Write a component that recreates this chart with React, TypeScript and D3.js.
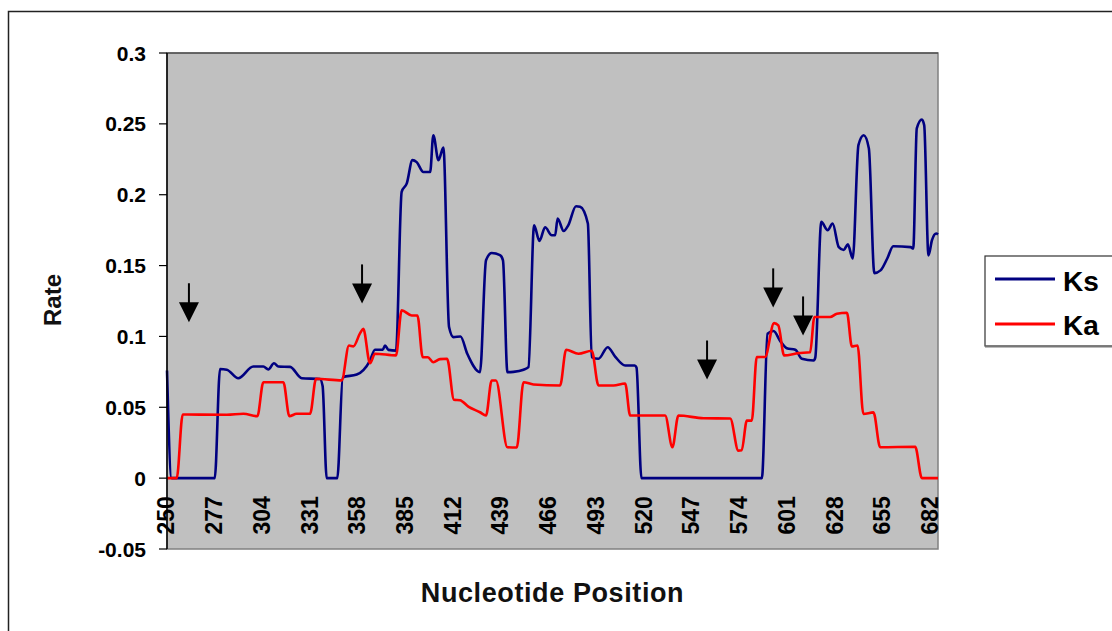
import React from 'react';
import * as d3 from 'd3';

// Ks / Ka sliding-window rates as [position, rate]
const ksPoints: [number, number][] = [
  [250, 0.076], [252.6, 0], [277, 0], [280, 0.077], [283.8, 0.0765], [290.3, 0.0705],
  [298.8, 0.0788], [304.5, 0.0788], [307.3, 0.0767], [310.5, 0.0811], [313, 0.0788],
  [319.6, 0.0785], [326.2, 0.0705], [336.5, 0.07], [338, 0.065], [340.3, 0], [346.3, 0],
  [349.4, 0.0712], [357.3, 0.0731], [364.8, 0.083], [367.6, 0.0906], [372, 0.0906],
  [373.3, 0.0936], [375.2, 0.0905], [379.5, 0.09], [382.7, 0.202], [385.6, 0.208],
  [388.8, 0.2244], [391.2, 0.223], [395, 0.216], [398.8, 0.216], [400.6, 0.242],
  [403.5, 0.2244], [406.3, 0.2333], [409.5, 0.1066], [412, 0.0995], [416, 0.1],
  [419.8, 0.0878], [427, 0.0748], [430.4, 0.1537], [433.6, 0.1589], [438.3, 0.1574],
  [440, 0.1537], [442.5, 0.0748], [445.9, 0.075], [451.6, 0.0765], [454.4, 0.0783],
  [457.6, 0.1784], [460.6, 0.1674], [463.8, 0.177], [467.6, 0.1714], [469.5, 0.1714],
  [470.9, 0.1832], [474.3, 0.1744], [476.9, 0.1784], [481.3, 0.1919], [483.6, 0.1915],
  [488, 0.1797], [490.2, 0.0854], [494, 0.0842], [499.2, 0.0924], [503.4, 0.0858],
  [509.1, 0.0795], [514.5, 0.0795], [515.5, 0.078], [518.3, 0], [586.4, 0],
  [589.6, 0.1019], [593, 0.1038], [596.8, 0.0967], [600.5, 0.0917], [605.3, 0.0906],
  [609, 0.0842], [615.7, 0.083], [616.6, 0.085], [620, 0.1808], [623.6, 0.175],
  [626.4, 0.1797], [629.9, 0.163], [632.7, 0.161], [635, 0.165], [637.8, 0.155],
  [641, 0.235], [644, 0.242], [646.9, 0.2327], [650, 0.1447], [653.5, 0.1466],
  [657.3, 0.155], [660.7, 0.1636], [670.5, 0.163], [672, 0.162], [674, 0.2468],
  [676.9, 0.2531], [678.2, 0.249], [680.6, 0.1572], [682.6, 0.168], [685, 0.1726],
  [686, 0.172],
];

const kaPoints: [number, number][] = [
  [250, 0], [255.5, 0], [258.9, 0.0449], [283.8, 0.0447], [293.2, 0.0454], [301.1, 0.0437],
  [304.5, 0.0677], [315.8, 0.0677], [319.2, 0.0437], [323.3, 0.0454], [330.9, 0.0454],
  [334.3, 0.0701], [348.8, 0.069], [352.9, 0.0936], [355.4, 0.093], [359.2, 0.1023],
  [361, 0.1054], [364.8, 0.0811], [367.6, 0.0878], [379.5, 0.0866], [382.7, 0.1184],
  [388.4, 0.1148], [391.6, 0.1148], [394.6, 0.0854], [397.5, 0.0853], [400.6, 0.0818],
  [404.4, 0.084], [408.4, 0.0842], [412.3, 0.0553], [415.7, 0.055], [420.4, 0.0505],
  [427, 0.0465], [430.4, 0.0442], [433.6, 0.0689], [436, 0.0689], [442.5, 0.0218],
  [447.8, 0.0216], [451.6, 0.0677], [457.2, 0.0661], [472.3, 0.0654], [475.7, 0.0906],
  [482.7, 0.0878], [490.2, 0.0899], [494, 0.0654], [502.5, 0.0654], [509.1, 0.0668],
  [511.9, 0.0442], [531.7, 0.0442], [535.8, 0.0218], [539.2, 0.0442], [553.4, 0.0423],
  [568.5, 0.0421], [573.1, 0.0194], [575, 0.0197], [577.9, 0.0406], [580.7, 0.0406],
  [583.5, 0.0854], [588.2, 0.0855], [593.3, 0.1094], [595.7, 0.1078], [599, 0.0866],
  [607.1, 0.0882], [613.7, 0.0889], [616.1, 0.1137], [625, 0.1137], [628.8, 0.116],
  [634.5, 0.1167], [637.3, 0.0929], [640.5, 0.0936], [643.8, 0.0453], [649.5, 0.0464],
  [653.3, 0.0218], [673.1, 0.0221], [676.9, 0], [686, 0],
];

const xTicks = [250, 277, 304, 331, 358, 385, 412, 439, 466, 493, 520, 547, 574, 601, 628, 655, 682];
const yTicks = [-0.05, 0, 0.05, 0.1, 0.15, 0.2, 0.25, 0.3];

// arrows marking positions: [position, rate at arrow tip]
const arrowPos = [262.4, 360.3, 555.4, 592.8, 609.7];
const arrowTip = [0.11, 0.1233, 0.0696, 0.1205, 0.1007];

const series = [
  { name: 'Ks', points: ksPoints, color: '#000080' },
  { name: 'Ka', points: kaPoints, color: '#ff0000' },
];

const W = 1112;
const H = 631;
const plot = { left: 167, right: 938, top: 53, bottom: 549 };
const font = 'Arial, "Liberation Sans", sans-serif';

export default function App() {
  const x = d3.scaleLinear().domain([250, 686]).range([plot.left, plot.right]);
  const y = d3.scaleLinear().domain([-0.05, 0.3]).range([plot.bottom, plot.top]);
  const line = d3
    .line<[number, number]>()
    .x((d) => x(d[0]))
    .y((d) => y(d[1]))
    .curve(d3.curveMonotoneX);

  const fmt = (v: number) => String(+v.toFixed(2));

  return (
    <svg width={W} height={H} style={{ position: 'absolute', left: 0, top: 0, background: '#fff' }}>
      {/* chart border */}
      <rect x={8.5} y={11.5} width={1120} height={640} fill="none" stroke="#222" strokeWidth={1.5} />

      {/* plot area */}
      <rect
        x={plot.left}
        y={plot.top}
        width={plot.right - plot.left}
        height={plot.bottom - plot.top}
        fill="#c0c0c0"
        stroke="#808080"
        strokeWidth={1.5}
      />
      <line x1={plot.left} x2={plot.right} y1={plot.top} y2={plot.top} stroke="#333" strokeWidth={1.2} />

      {/* series */}
      {series.map((s) => (
        <path key={s.name} d={line(s.points) || ''} fill="none" stroke={s.color} strokeWidth={2.6} strokeLinejoin="round" />
      ))}

      {/* arrows */}
      {arrowPos.map((p, i) => {
        const ax = x(p);
        const ty = y(arrowTip[i]);
        return (
          <g key={i}>
            <line x1={ax} x2={ax} y1={ty - 39} y2={ty - 18} stroke="#000" strokeWidth={2} />
            <path d={`M${ax - 10},${ty - 20}L${ax + 10},${ty - 20}L${ax},${ty}Z`} fill="#000" />
          </g>
        );
      })}

      {/* y axis */}
      <line x1={plot.left} x2={plot.left} y1={plot.top} y2={plot.bottom} stroke="#000" strokeWidth={1.5} />
      {yTicks.map((t) => (
        <g key={t}>
          <line x1={plot.left - 8} x2={plot.left} y1={y(t)} y2={y(t)} stroke="#000" strokeWidth={1.2} />
          <text
            x={146}
            y={y(t)}
            dy="0.36em"
            textAnchor="end"
            fontFamily={font}
            fontWeight="bold"
            fontSize={21}
            fill="#000"
          >
            {fmt(t)}
          </text>
        </g>
      ))}

      {/* x tick labels (rotated) */}
      {xTicks.map((t) => (
        <text
          key={t}
          transform={`translate(${x(t) - 1},${y(0) + 18}) rotate(-90)`}
          dy="0.36em"
          textAnchor="end"
          fontFamily={font}
          fontWeight="bold"
          fontSize={23}
          fill="#000"
        >
          {t}
        </text>
      ))}

      {/* axis titles */}
      <text
        x={(plot.left + plot.right) / 2}
        y={602}
        textAnchor="middle"
        fontFamily={font}
        fontWeight="bold"
        fontSize={27}
        letterSpacing={0.6}
        fill="#111"
      >
        Nucleotide Position
      </text>
      <text
        transform="translate(61,300) rotate(-90)"
        textAnchor="middle"
        fontFamily={font}
        fontWeight="bold"
        fontSize={24}
        fill="#111"
      >
        Rate
      </text>

      {/* legend */}
      <rect x={985} y={256} width={140} height={90} fill="#fff" stroke="#333" strokeWidth={1.2} />
      <line x1={985} x2={1112} y1={346.5} y2={346.5} stroke="#777" strokeWidth={2} />
      {series.map((s, i) => (
        <g key={s.name}>
          <line x1={995} x2={1055} y1={279 + i * 45} y2={279 + i * 45} stroke={s.color} strokeWidth={3} />
          <text x={1063} y={291 + i * 44} fontFamily={font} fontWeight="bold" fontSize={28} fill="#000">
            {s.name}
          </text>
        </g>
      ))}
    </svg>
  );
}
